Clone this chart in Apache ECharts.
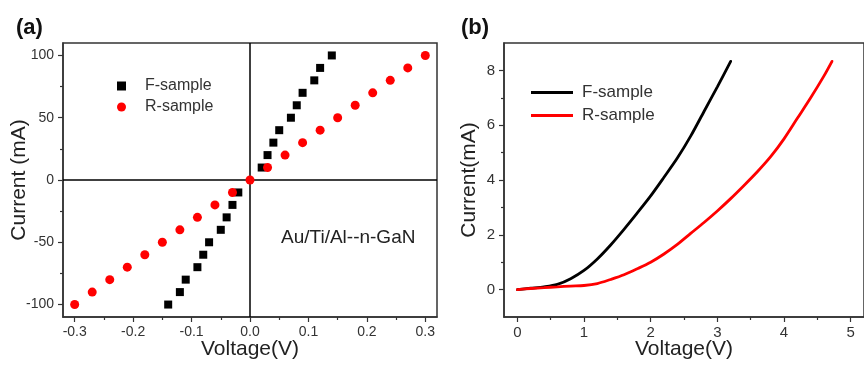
<!DOCTYPE html>
<html>
<head>
<meta charset="utf-8">
<script src="https://cdn.jsdelivr.net/npm/echarts@6/dist/echarts.min.js"></script>
<style>html,body{margin:0;padding:0;background:#fff}#c{width:864px;height:366px}</style>
</head>
<body>
<div id="c"></div>
<script>
// Panel (a): I-V scatter
const aCurrF = [-100,-90,-80,-70,-60,-50,-40,-30,-20,-10,10,20,30,40,50,60,70,80,90,100];
const aVoltF = [-0.14,-0.12,-0.11,-0.09,-0.08,-0.07,-0.05,-0.04,-0.03,-0.02,0.02,0.03,0.04,0.05,0.07,0.08,0.09,0.11,0.12,0.14];
const aCurrR = [-100,-90,-80,-70,-60,-50,-40,-30,-20,-10,0,10,20,30,40,50,60,70,80,90,100];
const aVoltR = [-0.30,-0.27,-0.24,-0.21,-0.18,-0.15,-0.12,-0.09,-0.06,-0.03,0,0.03,0.06,0.09,0.12,0.15,0.18,0.21,0.24,0.27,0.30];
const aXTicks = [-0.3,-0.2,-0.1,0,0.1,0.2,0.3];
const aXMinor = [-0.25,-0.15,-0.05,0.05,0.15,0.25];
const aYTicks = [-100,-50,0,50,100];
const aYMinor = [-75,-25,25,75];

// Panel (b): I-V curves
const bVoltF = [0,0.2,0.4,0.6,0.8,1.0,1.2,1.4,1.6,1.8,2.0,2.2,2.4,2.6,2.8,3.0,3.2];
const bCurrF = [0,0.05,0.1,0.19,0.4,0.7,1.12,1.63,2.2,2.8,3.42,4.1,4.8,5.6,6.5,7.4,8.33];
const bVoltR = [0,0.2,0.4,0.6,0.8,1.0,1.2,1.4,1.6,1.8,2.0,2.2,2.4,2.6,2.8,3.0,3.2,3.4,3.6,3.8,4.0,4.2,4.4,4.6,4.72];
const bCurrR = [0,0.04,0.07,0.1,0.13,0.15,0.22,0.37,0.54,0.76,1.0,1.3,1.65,2.05,2.45,2.87,3.32,3.8,4.3,4.85,5.5,6.25,7.0,7.8,8.33];
const bXTicks = [0,1,2,3,4,5];
const bXMinor = [0.5,1.5,2.5,3.5,4.5];
const bYTicks = [0,2,4,6,8];
const bYMinor = [1,3,5,7];

const zip = (xs, ys) => xs.map((x, i) => [x, ys[i]]);
const FONT = "'Liberation Sans', Arial, sans-serif";
const AX = '#333';

function majorAxis(extra) {
  return Object.assign({
    type: 'value',
    splitLine: { show: false },
    axisLine: { show: true, onZero: false, lineStyle: { color: AX, width: 1.5 } },
    nameLocation: 'middle',
    nameMoveOverlap: false,
    nameTextStyle: { color: '#222', fontSize: 21, fontFamily: FONT }
  }, extra);
}
function minorAxis(extra) {
  return Object.assign({
    type: 'value',
    splitLine: { show: false },
    axisLine: { show: false, onZero: false },
    axisLabel: { show: false }
  }, extra);
}
const tick = (vals, len) => ({ show: true, inside: false, length: len, customValues: vals, lineStyle: { color: AX, width: 1.2 } });

const chart = echarts.init(document.getElementById('c'), null, { renderer: 'canvas' });
chart.setOption({
  animation: false,
  textStyle: { fontFamily: FONT },
  title: [
    { text: '(a)', left: 11, top: 12, textStyle: { fontSize: 22, fontWeight: 'bold', color: '#111', fontFamily: FONT } },
    { text: '(b)', left: 456, top: 12, textStyle: { fontSize: 22, fontWeight: 'bold', color: '#111', fontFamily: FONT } }
  ],
  grid: [
    { left: 63, top: 43, width: 374, height: 274, show: true, borderColor: AX, borderWidth: 1.5 },
    { left: 504, top: 43, width: 368, height: 274, show: true, borderColor: AX, borderWidth: 1.5 }
  ],
  xAxis: [
    majorAxis({ gridIndex: 0, position: 'bottom', min: -0.32, max: 0.32, name: 'Voltage(V)', nameGap: 22,
      axisTick: tick(aXTicks, 5),
      axisLabel: { color: '#333', fontSize: 14, fontFamily: FONT, margin: 8, customValues: aXTicks, formatter: v => v.toFixed(1) } }),
    minorAxis({ gridIndex: 0, position: 'bottom', min: -0.32, max: 0.32, axisTick: tick(aXMinor, 3) }),
    majorAxis({ gridIndex: 1, position: 'bottom', min: -0.2, max: 5.2, name: 'Voltage(V)', nameGap: 22,
      axisTick: tick(bXTicks, 5),
      axisLabel: { color: '#333', fontSize: 15, fontFamily: FONT, margin: 8, customValues: bXTicks } }),
    minorAxis({ gridIndex: 1, position: 'bottom', min: -0.2, max: 5.2, axisTick: tick(bXMinor, 3) })
  ],
  yAxis: [
    majorAxis({ gridIndex: 0, position: 'left', min: -110, max: 110, name: 'Current (mA)', nameGap: 33,
      axisTick: tick(aYTicks, 5),
      axisLabel: { color: '#333', fontSize: 14, fontFamily: FONT, margin: 9, customValues: aYTicks } }),
    minorAxis({ gridIndex: 0, position: 'left', min: -110, max: 110, axisTick: tick(aYMinor, 3) }),
    majorAxis({ gridIndex: 1, position: 'left', min: -1, max: 9, name: 'Current(mA)', nameGap: 24,
      axisTick: tick(bYTicks, 5),
      axisLabel: { color: '#333', fontSize: 15, fontFamily: FONT, margin: 9, customValues: bYTicks } }),
    minorAxis({ gridIndex: 1, position: 'left', min: -1, max: 9, axisTick: tick(bYMinor, 3) })
  ],
  legend: [
    { orient: 'vertical', left: 112, top: 73, itemWidth: 9, itemHeight: 9, itemGap: 5,
      data: [{ name: 'F-sample (a)', icon: 'rect' }, { name: 'R-sample (a)', icon: 'circle' }],
      formatter: n => n.split(' ')[0],
      textStyle: { fontSize: 16, color: '#333', fontFamily: FONT, padding: [0, 0, 0, 14] }, selectedMode: false },
    { orient: 'vertical', left: 526, top: 79, itemWidth: 42, itemHeight: 3, itemGap: 6,
      data: [{ name: 'F-sample (b)', icon: 'rect' }, { name: 'R-sample (b)', icon: 'rect' }],
      formatter: n => n.split(' ')[0],
      textStyle: { fontSize: 17, color: '#333', fontFamily: FONT, padding: [0, 0, 0, 4] }, selectedMode: false }
  ],
  graphic: [
    { type: 'text', left: 281, top: 228, style: { text: 'Au/Ti/Al--n-GaN', fontSize: 19, fill: '#222', fontFamily: FONT } }
  ],
  series: [
    { name: 'zero', type: 'line', xAxisIndex: 0, yAxisIndex: 0, data: [], z: 1,
      markLine: { silent: true, symbol: ['none', 'none'], label: { show: false }, z: 1,
        lineStyle: { color: '#000', width: 1.5, type: 'solid' },
        data: [{ xAxis: 0 }, { yAxis: 0 }] } },
    { name: 'F-sample (a)', type: 'scatter', xAxisIndex: 0, yAxisIndex: 0, symbol: 'rect', symbolSize: 8,
      itemStyle: { color: '#000', opacity: 1 }, data: zip(aVoltF, aCurrF), z: 3 },
    { name: 'R-sample (a)', type: 'scatter', xAxisIndex: 0, yAxisIndex: 0, symbol: 'circle', symbolSize: 9,
      itemStyle: { color: '#ff0000', opacity: 1 }, data: zip(aVoltR, aCurrR), z: 4 },
    { name: 'F-sample (b)', type: 'line', xAxisIndex: 2, yAxisIndex: 2, symbol: 'none', smooth: 0.3,
      lineStyle: { color: '#000', width: 2.8, cap: 'round' }, itemStyle: { color: '#000' }, data: zip(bVoltF, bCurrF) },
    { name: 'R-sample (b)', type: 'line', xAxisIndex: 2, yAxisIndex: 2, symbol: 'none', smooth: 0.3,
      lineStyle: { color: '#ff0000', width: 2.8, cap: 'round' }, itemStyle: { color: '#ff0000' }, data: zip(bVoltR, bCurrR) }
  ]
});
</script>
</body>
</html>
